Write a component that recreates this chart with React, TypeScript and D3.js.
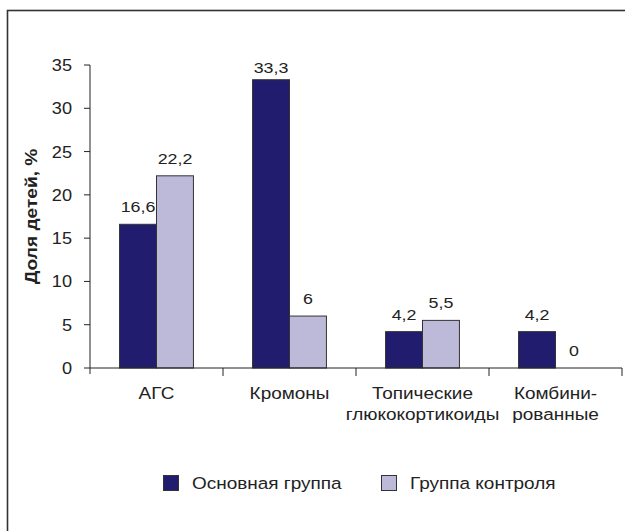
import React from "react";
import * as d3 from "d3";

const categories: string[][] = [
  ["АГС"],
  ["Кромоны"],
  ["Топические", "глюкокортикоиды"],
  ["Комбини-", "рованные"],
];
const seriesNames = ["Основная группа", "Группа контроля"];
const mainGroup = [16.6, 33.3, 4.2, 4.2];
const controlGroup = [22.2, 6, 5.5, 0];
const yTicks = [0, 5, 10, 15, 20, 25, 30, 35];
const colors = ["#221c6e", "#bdbad9"];

const fmt = (v: number) => String(v).replace(".", ",");
const font = "'Liberation Sans', Arial, Helvetica, sans-serif";

function SText(props: {
  x: number; y: number; size: number; sx?: number; anchor?: string; weight?: string; rotate?: number; children: React.ReactNode;
}) {
  const { x, y, size, sx = 1, anchor = "start", weight = "normal", rotate = 0, children } = props;
  return (
    <g transform={`translate(${x},${y}) rotate(${rotate}) scale(${sx},1)`}>
      <text x={0} y={0} textAnchor={anchor} fontFamily={font} fontSize={size} fontWeight={weight} fill="#222">
        {children}
      </text>
    </g>
  );
}

export default function App() {
  const W = 625, H = 531;
  const x0 = 90, x1 = 622, yTop = 65, yBot = 368;
  const xBand = d3.scaleBand<number>().domain(d3.range(categories.length)).range([x0, x1]).padding(0);
  const xInner = d3.scaleBand<number>().domain([0, 1]).range([0, xBand.bandwidth()]).paddingInner(0).paddingOuter(0.8);
  const y = d3.scaleLinear().domain([0, 35]).range([yBot, yTop]);
  const series = [mainGroup, controlGroup];
  const bw = xInner.bandwidth();
  const SX = 1.15;

  return (
    <svg width={W} height={H} style={{ position: "absolute", left: 0, top: 0, display: "block" }}>
      <rect x={0} y={0} width={W} height={H} fill="#fff" />
      <rect x={7.5} y={10.5} width={W + 20} height={H + 20} fill="none" stroke="#333" strokeWidth={1.6} />
      {/* bars */}
      {categories.map((_, i) =>
        series.map((s, j) => {
          const v = s[i];
          const bx = (xBand(i) as number) + (xInner(j) as number);
          const by = y(v);
          return (
            <g key={`${i}-${j}`}>
              {v > 0 && (
                <rect x={bx} y={by} width={bw} height={yBot - by} fill={colors[j]} stroke="#333" strokeWidth={1} />
              )}
              <SText x={bx + bw / 2} y={Math.max(by - 12, 73)} size={15.5} sx={SX} anchor="middle">
                {fmt(v)}
              </SText>
            </g>
          );
        })
      )}
      {/* y axis */}
      <line x1={x0} x2={x0} y1={yTop} y2={yBot + 6} stroke="#222" strokeWidth={1} />
      {yTicks.map((t) => (
        <g key={t}>
          <line x1={x0 - 6} x2={x0} y1={y(t)} y2={y(t)} stroke="#222" strokeWidth={1} />
          <SText x={x0 - 18} y={y(t) + 6} size={16.5} sx={1.1} anchor="end">
            {t}
          </SText>
        </g>
      ))}
      {/* x axis */}
      <line x1={x0} x2={x1} y1={yBot} y2={yBot} stroke="#222" strokeWidth={1} />
      {categories.map((_, i) => {
        const xe = (xBand(i) as number) + xBand.bandwidth();
        return <line key={i} x1={xe} x2={xe} y1={yBot} y2={yBot + 8} stroke="#222" strokeWidth={1} />;
      })}
      {categories.map((lines, i) =>
        lines.map((l, k) => (
          <SText key={`${i}-${k}`} x={(xBand(i) as number) + xBand.bandwidth() / 2} y={399 + k * 21} size={16.5} sx={SX} anchor="middle">
            {l}
          </SText>
        ))
      )}
      {/* y title */}
      <SText x={37} y={(yTop + yBot) / 2} size={16.5} sx={1.16} anchor="middle" weight="bold" rotate={-90}>
        Доля детей, %
      </SText>
      {/* legend */}
      {seriesNames.map((n, j) => {
        const lx = j === 0 ? 163 : 381;
        return (
          <g key={n}>
            <rect x={lx + 0.5} y={475.5} width={15} height={15} fill={colors[j]} stroke="#333" strokeWidth={1} />
            <SText x={lx + 29} y={489} size={16.5} sx={SX}>
              {n}
            </SText>
          </g>
        );
      })}
    </svg>
  );
}
